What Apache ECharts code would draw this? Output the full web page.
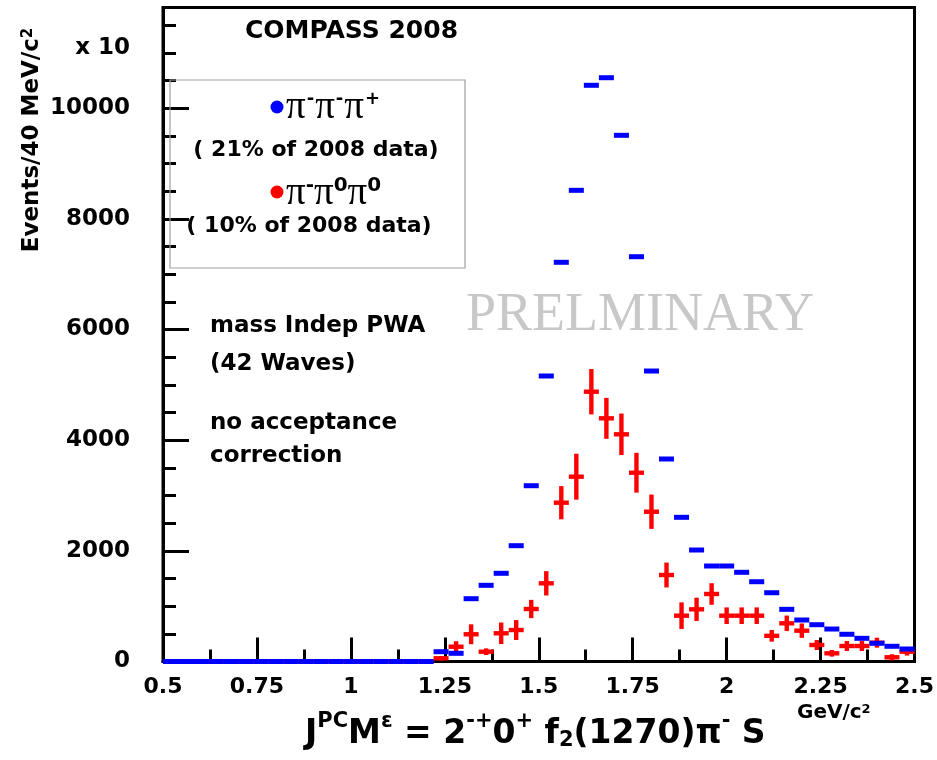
<!DOCTYPE html>
<html>
<head>
<meta charset="utf-8">
<script src="https://cdn.jsdelivr.net/npm/echarts@6/dist/echarts.min.js"></script>
<style>
html,body{margin:0;padding:0;background:#fff;}
#chart{width:937px;height:760px;}
</style>
</head>
<body>
<div id="chart"></div>
<script>
// ---- data (bin centres, 40 MeV bins) ----
const mass = [0.52,0.56,0.60,0.64,0.68,0.72,0.76,0.80,0.84,0.88,0.92,0.96,1.00,1.04,1.08,1.12,1.16,1.20,
  1.24,1.28,1.32,1.36,1.40,1.44,1.48,1.52,1.56,1.60,1.64,1.68,1.72,1.76,1.80,1.84,1.88,1.92,1.96,2.00,
  2.04,2.08,2.12,2.16,2.20,2.24,2.28,2.32,2.36,2.40,2.44,2.48];
const binWidth = 0.04;
const chargedEvents = [0,0,0,0,0,0,0,0,0,0,0,0,0,0,0,0,0,0,
  177,148,1135,1377,1594,2093,3177,5160,7215,8516,10414,10551,9510,7316,5250,3660,2606,2015,1726,1726,
  1612,1442,1243,943,750,665,587,492,419,329,275,226];
const neutralEvents = [0,0,0,0,0,0,0,0,0,0,0,0,0,0,0,0,0,0,
  58,267,492,177,510,569,949,1413,2870,3340,4876,4395,4106,3412,2707,1563,828,943,1220,828,
  828,828,464,690,557,298,148,280,280,340,76,177];
const neutralErrors = [0,0,0,0,0,0,0,0,0,0,0,0,0,0,0,0,0,0,
  40,100,180,60,195,180,165,220,300,415,410,370,375,360,310,225,240,210,195,150,
  150,150,105,140,130,90,60,90,90,90,55,70];
const yTicks = [0,2000,4000,6000,8000,10000];
const xRange = [0.5, 2.5];
const yMax = 11820;

const FONT = '"DejaVu Sans", sans-serif';
const SERIF = '"Liberation Serif", "DejaVu Serif", serif';

const chargedData = mass.map((m,i)=>[m, chargedEvents[i]]);
const neutralData = mass.map((m,i)=>[m, neutralEvents[i], neutralErrors[i]]);

function renderDash(params, api){
  const x = api.value(0), y = api.value(1);
  const a = api.coord([x - binWidth/2, y]);
  const b = api.coord([x + binWidth/2, y]);
  return {type:'rect', shape:{x:a[0], y:a[1]-2.5, width:b[0]-a[0], height:5},
          style:{fill:'#0000ff'}};
}
function renderCross(params, api){
  const x = api.value(0), y = api.value(1), e = api.value(2);
  const a = api.coord([x - binWidth/2, y]);
  const b = api.coord([x + binWidth/2, y]);
  const lo = api.coord([x, y - e]);
  const hi = api.coord([x, y + e]);
  const c = api.coord([x, y]);
  const children = [
    {type:'rect', shape:{x:a[0], y:a[1]-2.2, width:b[0]-a[0], height:4.4}, style:{fill:'#ff0000'}}
  ];
  if (e > 0) {
    children.push({type:'rect', shape:{x:c[0]-2.2, y:hi[1], width:4.4, height:lo[1]-hi[1]}, style:{fill:'#ff0000'}});
  }
  return {type:'group', children:children};
}

const chart = echarts.init(document.getElementById('chart'));
const option = {
  animation:false,
  backgroundColor:'#fff',
  grid:{left:163, right:20, top:7.5, bottom:98.5, show:true, borderColor:'#000', borderWidth:3, backgroundColor:'transparent'},
  xAxis:{
    type:'value', min:xRange[0], max:xRange[1], interval:0.25,
    axisLine:{show:true, onZero:false, lineStyle:{color:'#000', width:3}},
    axisTick:{show:true, inside:true, length:24, lineStyle:{color:'#000', width:3}},
    minorTick:{show:true, splitNumber:2, length:12, lineStyle:{color:'#000', width:3}},
    splitLine:{show:false},
    axisLabel:{color:'#000', fontFamily:FONT, fontWeight:'bold', fontSize:22, margin:15, hideOverlap:false}
  },
  yAxis:[{
    type:'value', min:0, max:yMax, interval:2000,
    axisLine:{show:true, lineStyle:{color:'#000', width:3}},
    axisTick:{show:true, inside:true, length:26, lineStyle:{color:'#000', width:3}},
    splitLine:{show:false},
    axisLabel:{color:'#000', fontFamily:FONT, fontWeight:'bold', fontSize:23, margin:33, showMaxLabel:false,
      formatter:function(v){ return yTicks.indexOf(v) >= 0 ? String(v) : ''; }}
  },{
    type:'value', min:0, max:yMax, interval:500, position:'left',
    axisLine:{show:false},
    axisTick:{show:true, inside:true, length:13, lineStyle:{color:'#000', width:3}},
    splitLine:{show:false},
    axisLabel:{show:false}
  }],
  series:[
    {type:'custom', name:'neutral', renderItem:renderCross, data:neutralData, encode:{x:0,y:1}, clip:false, z:3},
    {type:'custom', name:'charged', renderItem:renderDash, data:chargedData, encode:{x:0,y:1}, clip:false, z:4}
  ],
  graphic:[
    // legend box
    {type:'rect', shape:{x:170, y:80, width:295, height:188}, style:{fill:'none', stroke:'#a0a0a0', lineWidth:1.2}, z:1},
    {type:'circle', shape:{cx:277, cy:107, r:6.5}, style:{fill:'#0000ff'}, z:10},
    {type:'circle', shape:{cx:277, cy:192, r:6.5}, style:{fill:'#ff0000'}, z:10},
    {type:'text', x:286, y:126, z:10, style:{
      text:'{p|π}{s|-}{p|π}{s|-}{p|π}{s|+}', align:'left', verticalAlign:'bottom',
      rich:{p:{fontFamily:SERIF, fontSize:39, fill:'#000', lineHeight:36},
            s:{fontFamily:FONT, fontWeight:'bold', fontSize:18, fill:'#000', verticalAlign:'top', lineHeight:18, padding:[0,1,0,1]}}}},
    {type:'text', x:316, y:150, z:10, style:{text:'( 21% of 2008 data)', font:'bold 22px '+FONT, fill:'#000', align:'center', verticalAlign:'middle'}},
    {type:'text', x:286, y:212, z:10, style:{
      text:'{p|π}{s|-}{p|π}{s|0}{p|π}{s|0}', align:'left', verticalAlign:'bottom',
      rich:{p:{fontFamily:SERIF, fontSize:39, fill:'#000', lineHeight:36},
            s:{fontFamily:FONT, fontWeight:'bold', fontSize:20, fill:'#000', verticalAlign:'top', lineHeight:20, padding:[0,0,14,0]}}}},
    {type:'text', x:309, y:226, z:10, style:{text:'( 10% of 2008 data)', font:'bold 22px '+FONT, fill:'#000', align:'center', verticalAlign:'middle'}},
    // annotations
    {type:'text', x:245, y:31, z:10, style:{text:'COMPASS 2008', font:'bold 25px '+FONT, fill:'#000', align:'left', verticalAlign:'middle'}},
    {type:'text', x:130, y:48, z:10, style:{text:'x 10', font:'bold 23px '+FONT, fill:'#000', align:'right', verticalAlign:'middle'}},
    {type:'text', x:210, y:326, z:10, style:{text:'mass Indep PWA', font:'bold 23px '+FONT, fill:'#000', align:'left', verticalAlign:'middle'}},
    {type:'text', x:210, y:364, z:10, style:{text:'(42 Waves)', font:'bold 23px '+FONT, fill:'#000', align:'left', verticalAlign:'middle'}},
    {type:'text', x:210, y:423, z:10, style:{text:'no acceptance', font:'bold 23px '+FONT, fill:'#000', align:'left', verticalAlign:'middle'}},
    {type:'text', x:210, y:456, z:10, style:{text:'correction', font:'bold 23px '+FONT, fill:'#000', align:'left', verticalAlign:'middle'}},
    {type:'text', x:640, y:316, z:0, style:{text:'PRELMINARY', font:'54px '+SERIF, fill:'#c8c8c8', align:'center', verticalAlign:'middle'}},
    // y title
    {type:'text', x:32, y:140, rotation:Math.PI/2, z:10, style:{
      text:'Events/40 MeV/c{s|2}', font:'bold 23px '+FONT, fill:'#000', align:'center', verticalAlign:'middle',
      rich:{s:{fontFamily:FONT, fontWeight:'bold', fontSize:15, verticalAlign:'top', fill:'#000'}}}},
    // x unit
    {type:'text', x:797, y:713, z:10, style:{
      text:'GeV/c{s|2}', font:'bold 20px '+FONT, fill:'#000', align:'left', verticalAlign:'middle',
      rich:{s:{fontFamily:FONT, fontWeight:'bold', fontSize:13, verticalAlign:'top', fill:'#000'}}}},
    // x title
    {type:'text', x:305, y:731, z:10, style:{
      text:'{b|J}{s|PC}{b|M}{s|ε}{b| = 2}{s|-+}{b|0}{s|+}{b| f}{u|2}{b|(1270)π}{s|-}{b| S}',
      align:'left', verticalAlign:'middle',
      rich:{b:{fontFamily:FONT, fontWeight:'bold', fontSize:33, fill:'#000', lineHeight:40, verticalAlign:'bottom'},
            s:{fontFamily:FONT, fontWeight:'bold', fontSize:21, fill:'#000', lineHeight:40, verticalAlign:'top'},
            u:{fontFamily:FONT, fontWeight:'bold', fontSize:21, fill:'#000', lineHeight:34, verticalAlign:'bottom'}}}}
  ]
};
chart.setOption(option);
</script>
</body>
</html>
